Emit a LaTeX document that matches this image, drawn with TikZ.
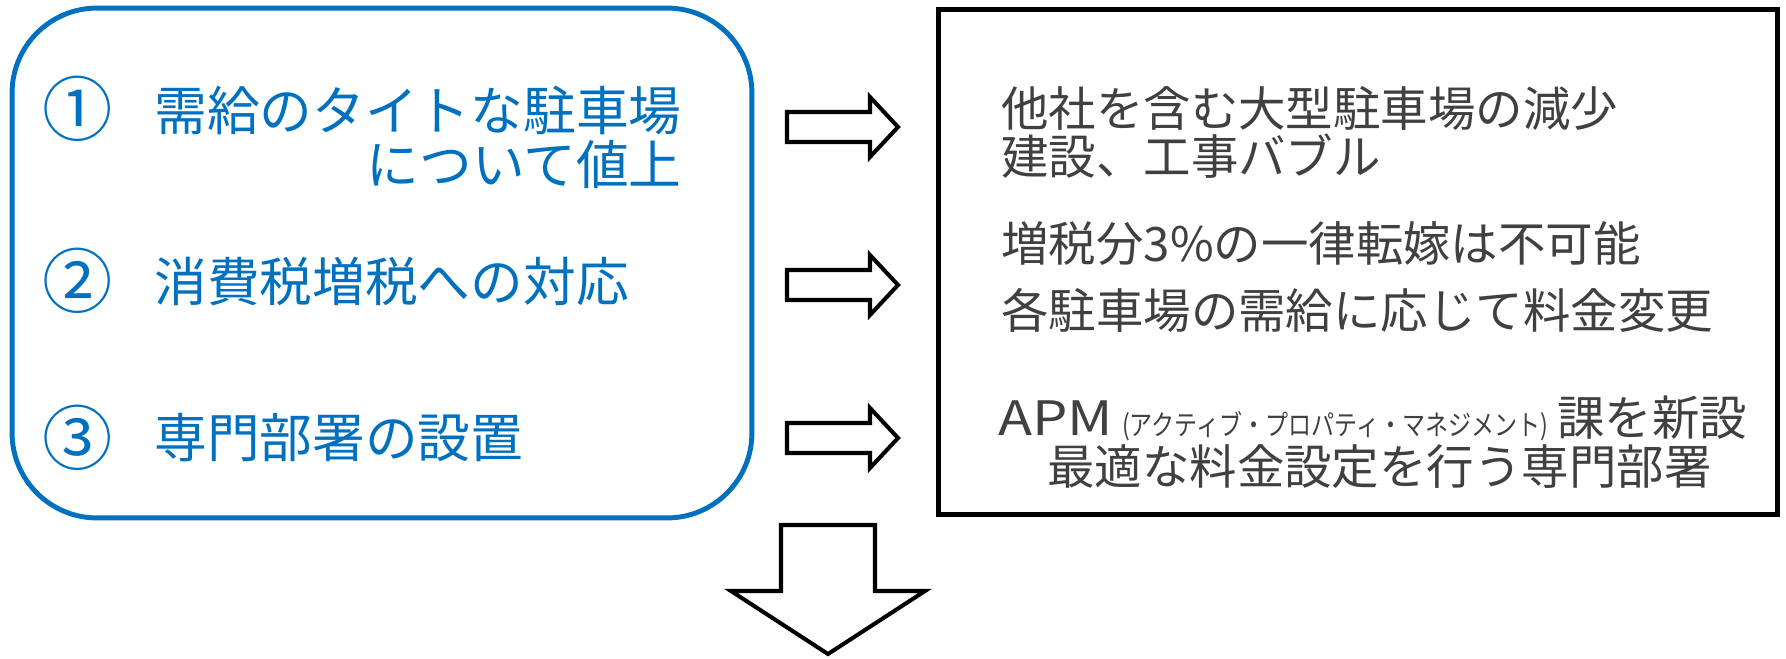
\documentclass[tikz,border=0pt]{standalone}
\usepackage{fontspec}
\setmainfont{Noto Sans CJK JP}
\newfontfamily\apmsmall[FakeStretch=0.82]{Noto Sans CJK JP}
\newfontfamily\apmwide[FakeStretch=1.18]{Noto Sans CJK JP}
\usetikzlibrary{positioning,calc}
\definecolor{itemblue}{RGB}{0,112,192}
\definecolor{notegray}{RGB}{64,64,64}

\begin{document}
\begin{tikzpicture}[x=0.02cm,y=-0.02cm,
    itemtext/.style={anchor=west, inner sep=0pt, text=itemblue, font=\fontsize{30}{36}\selectfont},
    itemnum/.style={itemtext, font=\fontsize{40}{46}\selectfont},
    notetext/.style={anchor=west, inner sep=0pt, text=notegray, font=\fontsize{27}{32}\selectfont},
    blockarrow/.style={draw=black, line width=2.3pt, fill=white, line join=miter}]
            \useasboundingbox (0,0) rectangle (1786,659);

            % the two frames
            \node[draw=itemblue, line width=2.8pt, rounded corners=1.7cm,
                  minimum width=14.8cm, minimum height=10.2cm] (measures) at (382,263) {};
            \node[draw=black, line width=2.8pt,
                  minimum width=16.8cm, minimum height=10.1cm] (effects) at (1358,262) {};

            % left side
            \node[itemnum] (num1) at (42,109) {①};
            \node[itemtext] (item1a) at (154,110) {需給のタイトな駐車場};
            \node[itemtext, anchor=east] (item1b) at (item1a.east |- 0,164) {について値上};
            \node[itemnum] (num2) at (42,281) {②};
            \node[itemtext] (item2) at (154,281) {消費税増税への対応};
            \node[itemnum] (num3) at (42,438) {③};
            \node[itemtext] (item3) at (154,438) {専門部署の設置};

            % right side
            \node[notetext] (note1a) at (1001,108) {他社を含む大型駐車場の減少};
            \node[notetext] (note1b) at (1001,156) {建設、工事バブル};
            \node[notetext] (note2a) at (1001,244) {増税分3\%の一律転嫁は不可能};
            \node[notetext] (note2b) at (1001,310) {各駐車場の需給に応じて料金変更};
            \node[notetext] (note3a) at (998,418) {{\apmwide APM}\hspace{5pt}{\apmsmall\fontsize{16}{18}\selectfont (アクティブ・プロパティ・マネジメント)}\hspace{5pt}課を新設};
            \node[notetext] (note3b) at (1047,467) {最適な料金設定を行う専門部署};

            % arrows between the frames
            \foreach \y in {127,285,438} {
                \draw[blockarrow] (787,\y-15) -- (870,\y-15) -- (870,\y-30) -- (898,\y)
                    -- (870,\y+30) -- (870,\y+15) -- (787,\y+15) -- cycle;
            }

            \draw[blockarrow] (781,525) -- (875,525) -- (875,591) -- (925,591) -- (828,654)
                -- (731,591) -- (781,591) -- cycle;

\end{tikzpicture}
\end{document}
